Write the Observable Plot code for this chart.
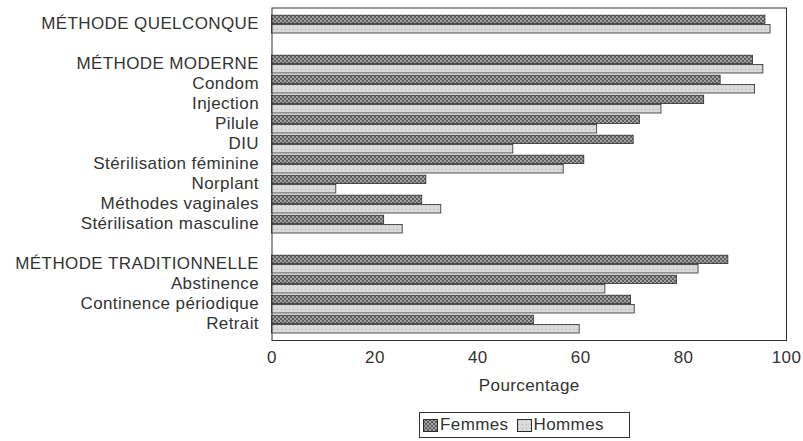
<!DOCTYPE html>
<html>
<head>
<meta charset="utf-8">
<script src="https://cdn.jsdelivr.net/npm/d3@7"></script>
<script src="https://cdn.jsdelivr.net/npm/@observablehq/plot@0.6"></script>
<style>
  body { margin: 0; background: #fff; font-family: "Liberation Sans", Arial, sans-serif; color: #333; }
  #wrap { position: relative; width: 803px; height: 441px; }
  #legend { position: absolute; left: 419px; top: 412px; width: 211px; height: 26px; box-sizing: border-box;
    border: 1px solid #333; display: flex; align-items: center; font-size: 17px; letter-spacing: 0.4px; color: #333; padding-left: 3px; }
  #legend .item { display: flex; align-items: center; margin-right: 8px; }
  #legend svg { margin-right: 2px; }
</style>
</head>
<body>
<svg width="0" height="0" style="position:absolute">
  <defs>
    <pattern id="patF" width="4" height="4" patternUnits="userSpaceOnUse">
      <rect width="4" height="4" fill="#5e5e5e"></rect>
      <circle cx="1" cy="1" r="0.9" fill="#c4c4c4"></circle>
      <circle cx="3" cy="3" r="0.9" fill="#c4c4c4"></circle>
    </pattern>
    <pattern id="patH" width="4" height="4" patternUnits="userSpaceOnUse">
      <rect width="4" height="4" fill="#dadada"></rect>
      <rect x="1" y="1" width="1" height="1" fill="#b0b0b0"></rect>
    </pattern>
  </defs>
</svg>
<div id="wrap"></div>
<script>
const categories = [
  "MÉTHODE QUELCONQUE",
  "MÉTHODE MODERNE", "Condom", "Injection", "Pilule", "DIU",
  "Stérilisation féminine", "Norplant", "Méthodes vaginales", "Stérilisation masculine",
  "MÉTHODE TRADITIONNELLE", "Abstinence", "Continence périodique", "Retrait"
];
const groups = [0, 1, 1, 1, 1, 1, 1, 1, 1, 1, 2, 2, 2, 2];
const femmes = [95.9, 93.5, 87.2, 84.0, 71.5, 70.3, 60.7, 30.0, 29.2, 21.8, 88.7, 78.7, 69.8, 50.9];
const hommes = [96.9, 95.5, 93.9, 75.7, 63.2, 46.9, 56.7, 12.5, 32.9, 25.4, 82.9, 64.8, 70.5, 59.8];
const xTicks = [0, 20, 40, 60, 80, 100];
const seriesNames = ["Femmes", "Hommes"];
const xLabel = "Pourcentage";

const data = categories.map((c, i) => ({cat: c, femmes: femmes[i], hommes: hommes[i]}));
const yDomain = [];
categories.forEach((c, i) => {
  if (i > 0 && groups[i] !== groups[i - 1]) yDomain.push(" ".repeat(yDomain.length));
  yDomain.push(c);
});

const chart = Plot.plot({
  width: 803,
  height: 400,
  marginLeft: 271.5,
  marginRight: 17,
  marginTop: 7.5,
  marginBottom: 60,
  style: {fontFamily: "'Liberation Sans', Arial, sans-serif", fontSize: "17px", color: "#333", background: "transparent", letterSpacing: "0.4px"},
  x: {domain: [0, 100]},
  y: {domain: yDomain, padding: 0},
  marks: [
    Plot.barX(data, {x: "femmes", y: "cat", fill: "url(#patF)", stroke: "#2b2b2b", strokeWidth: 0.8, insetTop: 1.2, insetBottom: 10.4}),
    Plot.barX(data, {x: "hommes", y: "cat", fill: "url(#patH)", stroke: "#2b2b2b", strokeWidth: 0.8, insetTop: 10.4, insetBottom: 1.0}),
    Plot.frame({stroke: "#333", strokeWidth: 1}),
    Plot.axisX({ticks: xTicks, tickSize: 0, tickPadding: 10, label: xLabel, labelAnchor: "center", labelOffset: 50, labelArrow: false}),
    Plot.axisY({tickSize: 0, tickPadding: 13, label: null, dy: -1})
  ]
});

const wrap = document.getElementById("wrap");
wrap.appendChild(chart);

const legend = document.createElement("div");
legend.id = "legend";
const pats = ["url(#patF)", "url(#patH)"];
seriesNames.forEach((name, i) => {
  const item = document.createElement("span");
  item.className = "item";
  item.innerHTML = `<svg width="15" height="13"><rect x="0.5" y="0.5" width="14" height="12" fill="${pats[i]}" stroke="#2b2b2b"></rect></svg><span>${name}</span>`;
  legend.appendChild(item);
});
wrap.appendChild(legend);
</script>
</body>
</html>
